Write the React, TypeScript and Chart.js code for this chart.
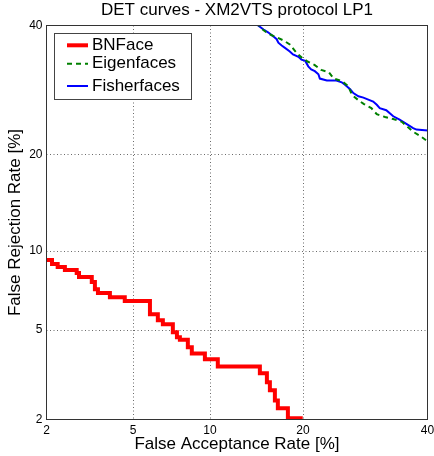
import { useEffect, useRef } from 'react';
import { Chart, registerables } from 'chart.js';

Chart.register(...registerables);

// ---- data (percent) ----
const TICK_VALUES = [2, 5, 10, 20, 40];
const TICK_LABELS = ['2', '5', '10', '20', '40'];

const BN_FAR = [1.9, 2.13, 2.27, 2.46, 2.8, 2.87, 3.29, 3.4, 3.51, 3.97, 4.61, 5.88, 6.33, 6.63, 7.26, 7.53, 7.73, 8.29, 8.58, 9.59, 10.67, 14.79, 15.57, 15.91, 16.49, 16.84, 18.06, 19.7];
const BN_FRR = [9.26, 8.96, 8.74, 8.52, 8.31, 8.03, 7.7, 7.24, 7.0, 6.75, 6.52, 5.79, 5.48, 5.28, 4.9, 4.67, 4.56, 4.24, 3.99, 3.77, 3.5, 3.27, 2.98, 2.74, 2.46, 2.26, 2.03, 1.8];

const EIG_FAR = [14.0, 14.7, 15.0, 15.7, 17.5, 18.3, 19.2, 19.8, 20.6, 21.6, 22.5, 23.6, 24.3, 25.5, 26.5, 27.1, 28.1, 29.0, 30.2, 31.1, 32.5, 33.9, 35.4, 37.4, 38.7, 39.8, 41.0];
const EIG_FRR = [42.0, 40.0, 39.4, 38.6, 37.4, 36.7, 35.2, 34.5, 33.8, 33.2, 32.4, 32.0, 31.0, 30.6, 29.8, 28.4, 27.6, 27.0, 26.4, 25.5, 25.1, 24.8, 24.4, 23.0, 22.4, 21.8, 21.5];

const FISH_FAR = [13.5, 14.6, 15.2, 15.7, 16.3, 16.7, 16.9, 17.3, 17.7, 18.3, 18.7, 19.4, 19.8, 20.3, 20.7, 21.1, 21.6, 22.1, 22.3, 23.3, 24.7, 25.5, 26.0, 26.8, 27.3, 28.1, 28.9, 29.7, 30.5, 31.1, 31.6, 32.7, 33.9, 35.0, 36.2, 37.4, 38.0, 39.5, 41.0];
const FISH_FRR = [42.0, 40.0, 39.3, 38.8, 38.1, 37.6, 37.0, 36.5, 36.1, 35.5, 35.0, 34.6, 34.1, 33.9, 33.0, 32.5, 32.2, 31.7, 31.0, 30.7, 30.7, 30.4, 30.0, 29.3, 28.7, 28.2, 28.0, 27.7, 27.4, 26.9, 26.4, 26.1, 25.2, 24.7, 24.1, 23.5, 23.3, 23.2, 23.1];

const TITLE = 'DET curves - XM2VTS protocol LP1';
const X_TITLE = 'False Acceptance Rate [%]';
const Y_TITLE = 'False Rejection Rate [%]';

const FONT = "'Liberation Sans', Arial, Helvetica, sans-serif";

// inverse standard normal CDF (Acklam)
function probit(p: number): number {
  const a = [-3.969683028665376e1, 2.209460984245205e2, -2.759285104469687e2, 1.38357751867269e2, -3.066479806614716e1, 2.506628277459239];
  const b = [-5.447609879822406e1, 1.615858368580409e2, -1.556989798598866e2, 6.680131188771972e1, -1.328068155288572e1];
  const c = [-7.784894002430293e-3, -3.223964580411365e-1, -2.400758277161838, -2.549732539343734, 4.374664141464968, 2.938163982698783];
  const d = [7.784695709041462e-3, 3.224671290700398e-1, 2.445134137142996, 3.754408661907416];
  const pl = 0.02425;
  if (p < pl) {
    const q = Math.sqrt(-2 * Math.log(p));
    return (((((c[0] * q + c[1]) * q + c[2]) * q + c[3]) * q + c[4]) * q + c[5]) / ((((d[0] * q + d[1]) * q + d[2]) * q + d[3]) * q + 1);
  }
  if (p <= 1 - pl) {
    const q = p - 0.5;
    const r = q * q;
    return ((((((a[0] * r + a[1]) * r + a[2]) * r + a[3]) * r + a[4]) * r + a[5]) * q) / (((((b[0] * r + b[1]) * r + b[2]) * r + b[3]) * r + b[4]) * r + 1);
  }
  const q = Math.sqrt(-2 * Math.log(1 - p));
  return -(((((c[0] * q + c[1]) * q + c[2]) * q + c[3]) * q + c[4]) * q + c[5]) / ((((d[0] * q + d[1]) * q + d[2]) * q + d[3]) * q + 1);
}

const toPoints = (far: number[], frr: number[]) => far.map((f, i) => ({ x: probit(f / 100), y: probit(frr[i] / 100) }));

const LEGEND_Y = [45.3, 63.7, 86];

const detPlugin = {
  id: 'detDecor',
  beforeDatasetsDraw(chart: any) {
    const { ctx, chartArea: a, scales } = chart;
    const xs = scales.x;
    const ys = scales.y;
    ctx.save();
    ctx.strokeStyle = '#6a6a6a';
    ctx.lineWidth = 1;
    ctx.setLineDash([1, 2.5]);
    TICK_VALUES.slice(1, -1).forEach((v) => {
      const px = Math.round(xs.getPixelForValue(probit(v / 100))) + 0.5;
      ctx.beginPath();
      ctx.moveTo(px, a.top);
      ctx.lineTo(px, a.bottom);
      ctx.stroke();
      const py = Math.round(ys.getPixelForValue(probit(v / 100))) + 0.5;
      ctx.beginPath();
      ctx.moveTo(a.left, py);
      ctx.lineTo(a.right, py);
      ctx.stroke();
    });
    ctx.restore();
  },
  afterDatasetsDraw(chart: any) {
    const { ctx, chartArea: a } = chart;
    ctx.save();
    // frame
    ctx.strokeStyle = '#333';
    ctx.lineWidth = 1;
    ctx.setLineDash([]);
    ctx.strokeRect(a.left, a.top, a.right - a.left, a.bottom - a.top);
    // legend
    const bx = 54.5, by = 33.5, bw = 137, bh = 66;
    ctx.fillStyle = '#fff';
    ctx.fillRect(bx, by, bw, bh);
    ctx.strokeStyle = '#444';
    ctx.strokeRect(bx, by, bw, bh);
    ctx.font = `17px ${FONT}`;
    ctx.textBaseline = 'middle';
    ctx.textAlign = 'left';
    chart.data.datasets.forEach((ds: any, i: number) => {
      const yy = LEGEND_Y[i];
      ctx.strokeStyle = ds.borderColor;
      ctx.lineWidth = ds.borderWidth;
      ctx.setLineDash(ds.borderDash || []);
      ctx.beginPath();
      ctx.moveTo(67, yy);
      ctx.lineTo(88, yy);
      ctx.stroke();
      ctx.setLineDash([]);
      ctx.fillStyle = '#000';
      ctx.fillText(ds.label, 92, yy);
    });
    ctx.restore();
  },
};

export default function App() {
  const ref = useRef<HTMLCanvasElement | null>(null);

  useEffect(() => {
    if (!ref.current) return;
    const tickFont = { family: FONT, size: 12 };
    const chart = new Chart(ref.current, {
      type: 'line',
      data: {
        datasets: [
          {
            label: 'BNFace',
            data: toPoints(BN_FAR, BN_FRR),
            borderColor: '#ff0000',
            borderWidth: 4,
            pointRadius: 0,
            stepped: 'before',
            clip: 0,
          },
          {
            label: 'Eigenfaces',
            data: toPoints(EIG_FAR, EIG_FRR),
            borderColor: '#008000',
            borderWidth: 2,
            borderDash: [5, 4],
            pointRadius: 0,
            clip: 0,
          },
          {
            label: 'Fisherfaces',
            data: toPoints(FISH_FAR, FISH_FRR),
            borderColor: '#0000ff',
            borderWidth: 2,
            pointRadius: 0,
            clip: 0,
          },
        ] as any,
      },
      options: {
        animation: false,
        responsive: false,
        parsing: false,
        layout: { padding: { left: 0, right: 6.5, top: 0, bottom: 0 } },
        plugins: {
          legend: { display: false },
          tooltip: { enabled: false },
          title: {
            display: true,
            text: TITLE,
            color: '#000',
            font: { family: FONT, size: 17, weight: 'normal' },
            padding: { top: 0, bottom: 5.1 },
            fullSize: false,
          },
        },
        scales: {
          x: {
            type: 'linear',
            min: probit(TICK_VALUES[0] / 100),
            max: probit(TICK_VALUES[TICK_VALUES.length - 1] / 100),
            afterBuildTicks: (s: any) => {
              s.ticks = TICK_VALUES.map((v) => ({ value: probit(v / 100) }));
            },
            afterFit: (s: any) => {
              s.height = 36.5;
              s.paddingLeft = 0;
              s.paddingRight = 0;
            },
            ticks: {
              callback: (_v: any, i: number) => TICK_LABELS[i],
              font: tickFont,
              color: '#000',
              padding: 4,
              maxRotation: 0,
              autoSkip: false,
            },
            grid: { display: false, drawTicks: false },
            border: { display: false },
            title: {
              display: true,
              text: X_TITLE,
              color: '#000',
              font: { family: FONT, size: 17 },
              padding: { top: 0, bottom: 1.5 },
            },
          },
          y: {
            type: 'linear',
            min: probit(TICK_VALUES[0] / 100),
            max: probit(TICK_VALUES[TICK_VALUES.length - 1] / 100),
            afterBuildTicks: (s: any) => {
              s.ticks = TICK_VALUES.map((v) => ({ value: probit(v / 100) }));
            },
            afterFit: (s: any) => {
              s.width = 46.5;
              s.paddingTop = 0;
              s.paddingBottom = 0;
            },
            ticks: {
              callback: (_v: any, i: number) => TICK_LABELS[i],
              font: tickFont,
              color: '#000',
              padding: 4,
              autoSkip: false,
            },
            grid: { display: false, drawTicks: false },
            border: { display: false },
            title: {
              display: true,
              text: Y_TITLE,
              color: '#000',
              font: { family: FONT, size: 17 },
              padding: { top: 5.5, bottom: 0 },
            },
          },
        },
      } as any,
      plugins: [detPlugin],
    });
    return () => chart.destroy();
  }, []);

  return (
    <div style={{ position: 'absolute', left: 0, top: 0, width: 434, height: 456, background: '#fff' }}>
      <canvas ref={ref} width={434} height={456} style={{ display: 'block' }} />
    </div>
  );
}
